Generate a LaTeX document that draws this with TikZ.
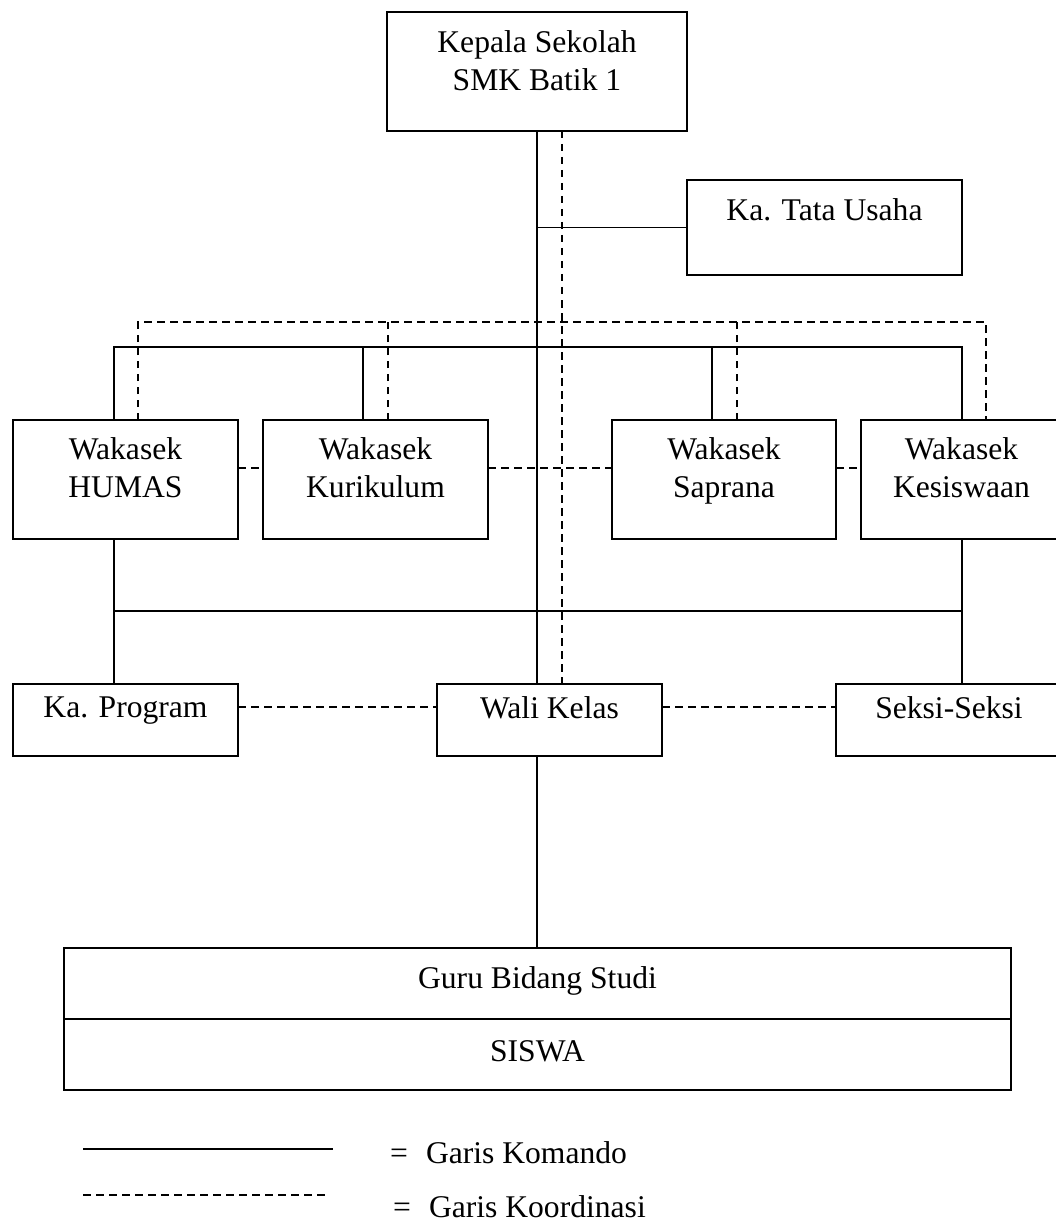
\documentclass[tikz,border=0pt]{standalone}
\usepackage{fontspec}
\setmainfont{Liberation Serif}
\usetikzlibrary{calc}
\begin{document}
\begin{tikzpicture}[x=1pt,y=-1pt,
  box/.style={draw, rectangle, line width=1.5pt, inner sep=0pt, outer sep=0pt},
  txt/.style={inner sep=0pt, align=center, anchor=north, font=\fontsize{31.6}{38}\selectfont},
  ltxt/.style={inner sep=0pt, anchor=base west, font=\fontsize{31.6}{38}\selectfont},
  cmd/.style={line width=1.3pt},
  koord/.style={line width=1.3pt, dash pattern=on 7.5pt off 5.5pt}]
\useasboundingbox (0,0) rectangle (1056,1222);
% boxes
\node[box, minimum width=300, minimum height=119] (kepala) at (537,71.5) {};
\node[box, minimum width=275, minimum height=95] (tu) at (824.5,227.5) {};
\node[box, minimum width=225, minimum height=119] (humas) at (125.5,479.5) {};
\node[box, minimum width=225, minimum height=119] (kuri) at (375.5,479.5) {};
\node[box, minimum width=224, minimum height=119] (sapr) at (724,479.5) {};
\node[box, minimum width=201, minimum height=119] (kesis) at (961.5,479.5) {};
\node[box, minimum width=225, minimum height=72] (kaprog) at (125.5,720) {};
\node[box, minimum width=225, minimum height=72] (wali) at (549.5,720) {};
\node[box, minimum width=226, minimum height=72] (seksi) at (949,720) {};
\node[box, minimum width=947, minimum height=71] (guru) at (537.5,983.5) {};
\node[box, minimum width=947, minimum height=71] (siswa) at (537.5,1054.5) {};
% texts
\node[txt] (kepalaT) at (537,30) {Kepala Sekolah\\SMK Batik 1};
\node[txt] (tuT) at (824.5,198.5) {Ka. Tata Usaha};
\node[txt] (humasT) at (125.5,437) {Wakasek\\HUMAS};
\node[txt] (kuriT) at (375.5,437) {Wakasek\\Kurikulum};
\node[txt] (saprT) at (724,437) {Wakasek\\Saprana};
\node[txt] (kesisT) at (961.5,437) {Wakasek\\Kesiswaan};
\node[txt] (kaprogT) at (125.5,697) {Ka. Program};
\node[txt] (waliT) at (549.5,696.5) {Wali Kelas};
\node[txt] (seksiT) at (949,696.5) {Seksi-Seksi};
\node[txt] (guruT) at (537.5,966) {Guru Bidang Studi};
\node[txt] (siswaT) at (537.5,1040.5) {SISWA};
% helper coordinates
\coordinate (busTop) at (0,347);
\coordinate (busDash) at (0,322);
\coordinate (busLow) at (0,611);
\coordinate (h1) at ($(humas.north west)+(101,0)$);
\coordinate (k2) at ($(kuri.north west)+(100,0)$);
\coordinate (s3) at ($(sapr.north west)+(100,0)$);
\coordinate (k4) at ($(kesis.north west)+(101,0)$);
\coordinate (h1d) at ($(humas.north west)+(125,0)$);
\coordinate (k2d) at ($(kuri.north west)+(125,0)$);
\coordinate (s3d) at ($(sapr.north west)+(125,0)$);
\coordinate (k4d) at ($(kesis.north west)+(125,0)$);
\coordinate (kd) at ($(kepala.south)+(25,0)$);
\coordinate (hb) at ($(humas.south west)+(101,0)$);
\coordinate (kb) at ($(kesis.south west)+(101,0)$);
% command lines
\draw[cmd] (kepala.south) -- (kepala.south |- wali.north);
\draw[cmd] (tu.west) -- (tu.west -| kepala.south);
\draw[cmd] (h1) -- (h1 |- busTop) -- (k4 |- busTop) -- (k4);
\draw[cmd] (k2) -- (k2 |- busTop);
\draw[cmd] (s3) -- (s3 |- busTop);
\draw[cmd] (hb) -- (hb |- kaprog.north);
\draw[cmd] (kb) -- (kb |- seksi.north);
\draw[cmd] (hb |- busLow) -- (kb |- busLow);
\draw[cmd] (wali.south -| kepala.south) -- (guru.north -| kepala.south);
% coordination lines
\draw[koord] (kd) -- (kd |- wali.north);
\draw[koord] (h1d) -- (h1d |- busDash) -- (k4d |- busDash) -- (k4d);
\draw[koord] (k2d) -- (k2d |- busDash);
\draw[koord] (s3d) -- (s3d |- busDash);
\draw[koord] ($(humas.north east)+(0,48)$) -- ($(kuri.north west)+(0,48)$);
\draw[koord] ($(kuri.north east)+(0,48)$) -- ($(sapr.north west)+(0,48)$);
\draw[koord] ($(sapr.north east)+(0,48)$) -- ($(kesis.north west)+(0,48)$);
\draw[koord] ($(kaprog.north east)+(0,23)$) -- ($(wali.north west)+(0,23)$);
\draw[koord] ($(wali.north east)+(0,23)$) -- ($(seksi.north west)+(0,23)$);
% legend
\coordinate (la) at (83,1149);
\coordinate (lb) at (333,1149);
\coordinate (lc) at (83,1195);
\coordinate (ld) at (328,1195);
\draw[cmd] (la) -- (lb);
\draw[koord] (lc) -- (ld);
\node[ltxt] (legK) at (390,1163.5) {=\hspace{18pt}Garis Komando};
\node[ltxt] (legD) at (393,1217) {=\hspace{18pt}Garis Koordinasi};
\end{tikzpicture}
\end{document}
